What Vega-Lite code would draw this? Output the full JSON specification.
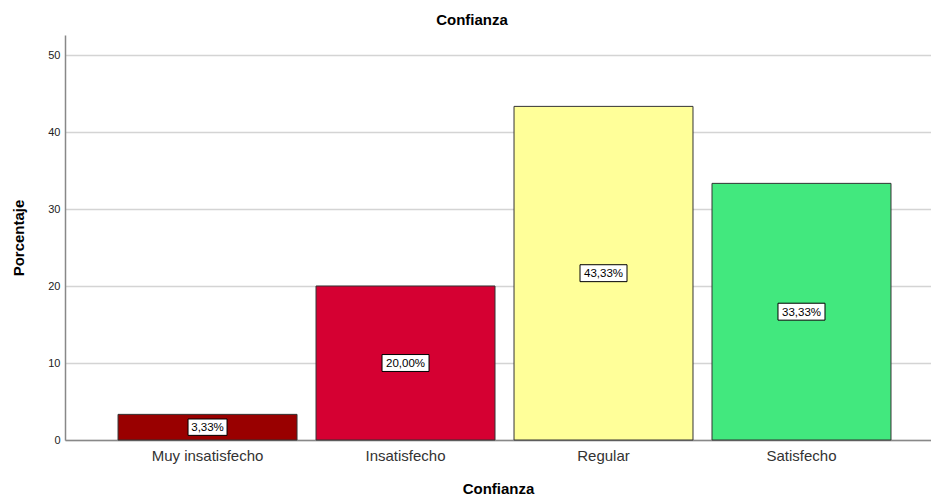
{
  "$schema": "https://vega.github.io/schema/vega-lite/v6.json",
  "width": 866,
  "height": 405,
  "autosize": {"type": "none"},
  "padding": {"left": 65, "top": 35, "right": 0, "bottom": 56},
  "background": "white",
  "title": {
    "text": "Confianza",
    "font": "Liberation Sans",
    "fontSize": 15,
    "fontWeight": "bold",
    "color": "#000000",
    "anchor": "middle",
    "dx": -26,
    "offset": 7
  },
  "config": {
    "view": {"stroke": null},
    "font": "Liberation Sans"
  },
  "data": {
    "values": [
      {"cat": "Muy insatisfecho", "pct": 3.33, "label": "3,33%"},
      {"cat": "Insatisfecho", "pct": 20.0, "label": "20,00%"},
      {"cat": "Regular", "pct": 43.33, "label": "43,33%"},
      {"cat": "Satisfecho", "pct": 33.33, "label": "33,33%"}
    ]
  },
  "encoding": {
    "x": {
      "field": "cat",
      "type": "nominal",
      "sort": null,
      "scale": {"type": "band", "paddingInner": 0.096, "paddingOuter": 0.235, "align": 0.57},
      "axis": {
        "title": "Confianza",
        "titleFont": "Liberation Sans",
        "titleFontSize": 15,
        "titleFontWeight": "bold",
        "titleColor": "#000000",
        "titlePadding": 18,
        "labelFont": "Liberation Sans",
        "labelFontSize": 15,
        "labelColor": "#333333",
        "labelAngle": 0,
        "labelPadding": 8,
        "ticks": false,
        "domainColor": "#888888",
        "domainWidth": 1.5
      }
    }
  },
  "resolve": {"scale": {"y": "independent"}},
  "layer": [
    {
      "mark": {"type": "bar", "stroke": "#333333", "strokeWidth": 1},
      "encoding": {
        "y": {
          "field": "pct",
          "type": "quantitative",
          "scale": {"domain": [0, 52.6], "nice": false},
          "axis": {
            "title": "Porcentaje",
            "titleFont": "Liberation Sans",
            "titleFontSize": 15,
            "titleFontWeight": "bold",
            "titleColor": "#000000",
            "titlePadding": 21,
            "values": [0, 10, 20, 30, 40, 50],
            "labelFont": "Liberation Sans",
            "labelFontSize": 11,
            "labelColor": "#222222",
            "labelPadding": 5,
            "ticks": false,
            "grid": true,
            "gridColor": "#d4d4d4",
            "gridWidth": 1.5,
            "domainColor": "#888888",
            "domainWidth": 1.5
          }
        },
        "color": {
          "field": "cat",
          "type": "nominal",
          "sort": null,
          "legend": null,
          "scale": {
            "domain": ["Muy insatisfecho", "Insatisfecho", "Regular", "Satisfecho"],
            "range": ["#990000", "#d50032", "#ffff99", "#42e87e"]
          }
        }
      }
    },
    {
      "mark": {"type": "point", "filled": true, "fill": "white", "stroke": "#000000", "strokeWidth": 1, "opacity": 1},
      "encoding": {
        "y": {"field": "pct", "type": "quantitative", "scale": {"domain": [0, 105.2], "nice": false}, "axis": null},
        "shape": {
          "condition": {"test": "datum.label.length < 6", "value": "M-1,-0.42H1V0.42H-1Z"},
          "value": "M-1,-0.36H1V0.36H-1Z"
        },
        "size": {
          "condition": {"test": "datum.label.length < 6", "value": 1521},
          "value": 2209
        }
      }
    },
    {
      "mark": {"type": "text", "font": "Liberation Sans", "fontSize": 11.5, "color": "#000000", "baseline": "middle", "dy": 1},
      "encoding": {
        "y": {"field": "pct", "type": "quantitative", "scale": {"domain": [0, 105.2], "nice": false}, "axis": null},
        "text": {"field": "label"}
      }
    }
  ]
}
